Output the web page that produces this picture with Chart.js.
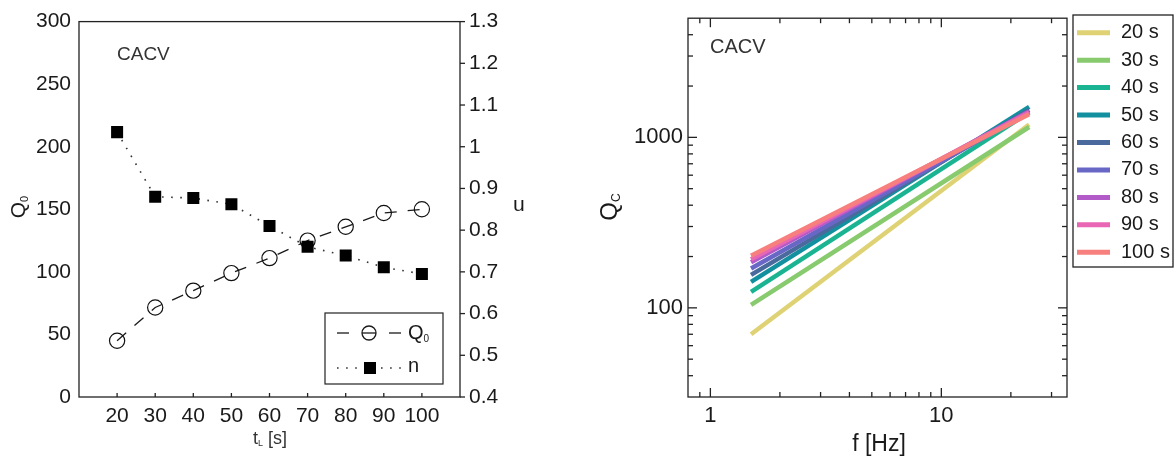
<!DOCTYPE html>
<html><head><meta charset="utf-8">
<script src="https://cdn.jsdelivr.net/npm/chart.js@4.4.0/dist/chart.umd.min.js"></script>
<style>
html,body{margin:0;padding:0;background:#fff;}
#wrap{position:relative;width:1176px;height:459px;overflow:hidden;background:#fff;}
canvas{position:absolute;top:0;}
#c1{left:0;} #c2{left:588px;}
</style></head><body>
<div id="wrap"><canvas id="c1" width="588" height="459"></canvas><canvas id="c2" width="588" height="459"></canvas></div>
<script>
// ---------- data: left panel ----------
const tL = [20, 30, 40, 50, 60, 70, 80, 90, 100];
const Q0 = [45, 71.5, 85, 99, 111, 125, 136, 147, 150];
const nExp = [1.035, 0.88, 0.877, 0.862, 0.81, 0.76, 0.739, 0.711, 0.695];
const leftXTickLabels = [20, 30, 40, 50, 60, 70, 80, 90, 100];
// ---------- data: right panel ----------
const freqHz = [1.5, 24];
const seriesLabels = ['20 s', '30 s', '40 s', '50 s', '60 s', '70 s', '80 s', '90 s', '100 s'];
const qc20s = [70, 1190];
const qc30s = [104, 1150];
const qc40s = [124, 1400];
const qc50s = [142, 1510];
const qc60s = [156, 1450];
const qc70s = [170, 1410];
const qc80s = [185, 1420];
const qc90s = [193, 1400];
const qc100s = [202, 1365];
const rightXTickLabels = [1, 10];
const rightYTickLabels = [100, 1000];

// ---------- styles ----------
const FONT = "'Liberation Sans', Arial, Helvetica, sans-serif";
const INK = '#1a1a1a';
const seriesColors = ['#dfd274', '#88ca6e', '#1ab492', '#13909f', '#4a699c', '#6967c5', '#b35ac9', '#e866b3', '#f7807f'];
const qcSeries = [qc20s, qc30s, qc40s, qc50s, qc60s, qc70s, qc80s, qc90s, qc100s];

function drawParts(ctx, parts, cx, cy, rot, color, align) {
  ctx.save();
  ctx.translate(cx, cy);
  ctx.rotate(rot);
  ctx.fillStyle = color;
  ctx.textBaseline = 'middle';
  ctx.textAlign = 'left';
  let total = 0;
  parts.forEach(p => { ctx.font = p.s + 'px ' + FONT; p.w = ctx.measureText(p.t).width; total += p.w; });
  let x = align === 'left' ? 0 : -total / 2;
  parts.forEach(p => { ctx.font = p.s + 'px ' + FONT; ctx.fillText(p.t, x, p.dy || 0); x += p.w; });
  ctx.restore();
}
function seg(ctx, x1, y1, x2, y2) { ctx.beginPath(); ctx.moveTo(x1, y1); ctx.lineTo(x2, y2); ctx.stroke(); }

// ---------- left chart ----------
const leftDeco = {
  id: 'leftDeco',
  afterDatasetsDraw(chart) {
    const { ctx, chartArea: a, scales } = chart;
    ctx.save();
    ctx.strokeStyle = '#222'; ctx.lineWidth = 1.3; ctx.setLineDash([]);
    ctx.strokeRect(a.left, a.top, a.right - a.left, a.bottom - a.top);
    scales.x.ticks.forEach(t => {
      if (leftXTickLabels.includes(t.value)) { const x = scales.x.getPixelForValue(t.value); seg(ctx, x, a.bottom, x, a.bottom - 4); }
    });
    scales.y1.ticks.forEach(t => { const y = scales.y1.getPixelForValue(t.value); seg(ctx, a.right, y, a.right + 5, y); });
    // legend box
    const lx = 325, ly = 313, lw = 118, lh = 71;
    ctx.fillStyle = '#fff'; ctx.fillRect(lx, ly, lw, lh);
    ctx.strokeStyle = '#222'; ctx.lineWidth = 1.2; ctx.strokeRect(lx, ly, lw, lh);
    const q = chart.data.datasets[1], n = chart.data.datasets[0];
    // Q0 row
    ctx.strokeStyle = q.borderColor; ctx.lineWidth = q.borderWidth;
    seg(ctx, 337, 333, 349, 333); seg(ctx, 362, 333, 376, 333); seg(ctx, 389, 333, 401, 333);
    ctx.beginPath(); ctx.arc(369, 333, 7, 0, Math.PI * 2); ctx.stroke();
    drawParts(ctx, [{ t: 'Q', s: 20 }, { t: '0', s: 10, dy: 6 }], 408, 333, 0, INK, 'left');
    // n row
    ctx.strokeStyle = n.borderColor; ctx.lineWidth = n.borderWidth; ctx.setLineDash(n.borderDash);
    seg(ctx, 337, 368, 364, 368); seg(ctx, 381, 368, 402, 368);
    ctx.setLineDash([]);
    ctx.fillStyle = '#000'; ctx.fillRect(364, 362, 12, 12);
    drawParts(ctx, [{ t: 'n', s: 20 }], 408, 366, 0, INK, 'left');
    // texts
    drawParts(ctx, [{ t: 'CACV', s: 19 }], 117, 55, 0, '#333', 'left');
    drawParts(ctx, [{ t: 'Q', s: 21 }, { t: '0', s: 11, dy: 6 }], 19, 207, -Math.PI / 2, INK);
    drawParts(ctx, [{ t: 't', s: 18 }, { t: 'L', s: 9, dy: 5 }, { t: ' [s]', s: 18 }], 270, 439, 0, '#333');
    drawParts(ctx, [{ t: 'n', s: 21 }], 519, 206, Math.PI, INK);
    ctx.restore();
  }
};

new Chart(document.getElementById('c1'), {
  type: 'line',
  data: {
    datasets: [
      {
        label: 'n', yAxisID: 'y1',
        data: tL.map((t, i) => ({ x: t, y: nExp[i] })),
        borderColor: '#333', borderWidth: 1.6, borderDash: [1.6, 7.5],
        pointStyle: 'rect', pointRadius: 8.5, pointBackgroundColor: '#000', pointBorderColor: '#000', pointBorderWidth: 0,
        fill: false, tension: 0
      },
      {
        label: 'Q0', yAxisID: 'y',
        data: tL.map((t, i) => ({ x: t, y: Q0[i] })),
        borderColor: '#1a1a1a', borderWidth: 1.3, borderDash: [12, 11],
        pointStyle: 'circle', pointRadius: 7.6, pointBackgroundColor: 'rgba(255,255,255,0)', pointBorderColor: '#111', pointBorderWidth: 1.2,
        fill: false, tension: 0
      }
    ]
  },
  options: {
    responsive: false, animation: false, devicePixelRatio: 1,
    layout: { padding: { top: 20, left: 0, right: 0, bottom: 0 } },
    plugins: { legend: { display: false }, tooltip: { enabled: false } },
    scales: {
      x: {
        type: 'linear', min: 10, max: 110,
        grid: { display: false, drawTicks: false }, border: { display: false },
        ticks: { stepSize: 10, autoSkip: false, maxRotation: 0, padding: 7, color: INK, font: { family: FONT, size: 21 },
          callback: v => leftXTickLabels.includes(v) ? String(v) : '' },
        afterFit: s => { s.height = 62; }
      },
      y: {
        position: 'left', min: 0, max: 300,
        grid: { display: false, drawTicks: false }, border: { display: false },
        ticks: { stepSize: 50, padding: 8, color: INK, font: { family: FONT, size: 21 } },
        afterFit: s => { s.width = 79; }
      },
      y1: {
        position: 'right', min: 0.4, max: 1.3,
        grid: { display: false, drawTicks: false }, border: { display: false },
        ticks: { stepSize: 0.1, padding: 9, color: INK, font: { family: FONT, size: 21 },
          callback: v => String(Number(v.toFixed(1))) },
        afterFit: s => { s.width = 128; }
      }
    }
  },
  plugins: [leftDeco]
});

// ---------- right chart ----------
function isStdLogTick(v) {
  const e = Math.floor(Math.log10(v) + 1e-9);
  const sig = v / Math.pow(10, e);
  return Math.abs(sig - Math.round(sig)) < 1e-6 ? Math.round(sig) : 0;
}
function inList(v, list) { return list.some(t => Math.abs(v - t) < 1e-9 * t); }

const rightDeco = {
  id: 'rightDeco',
  afterDatasetsDraw(chart) {
    const { ctx, chartArea: a, scales } = chart;
    ctx.save();
    ctx.strokeStyle = '#222'; ctx.lineWidth = 1.3;
    ctx.strokeRect(a.left, a.top, a.right - a.left, a.bottom - a.top);
    scales.x.ticks.forEach(t => {
      const sig = isStdLogTick(t.value); if (!sig) return;
      const x = scales.x.getPixelForValue(t.value);
      if (x < a.left + 0.5 || x > a.right - 0.5) return;
      const L = sig === 1 ? 9 : 5;
      seg(ctx, x, a.bottom, x, a.bottom - L); seg(ctx, x, a.top, x, a.top + L);
    });
    scales.y.ticks.forEach(t => {
      const sig = isStdLogTick(t.value); if (!sig) return;
      const y = scales.y.getPixelForValue(t.value);
      if (y < a.top + 0.5 || y > a.bottom - 0.5) return;
      const L = sig === 1 ? 9 : 5;
      seg(ctx, a.left, y, a.left + L, y); seg(ctx, a.right, y, a.right - L, y);
    });
    // legend
    const bx = 485, by = 15, bw = 100, bh = 252;
    ctx.strokeStyle = '#222'; ctx.lineWidth = 1.3; ctx.strokeRect(bx, by, bw, bh);
    chart.data.datasets.forEach((d, i) => {
      const y = 32.7 + i * 27.45;
      ctx.strokeStyle = d.borderColor; ctx.lineWidth = 5; ctx.lineCap = 'butt';
      seg(ctx, 489, y, 522, y);
      drawParts(ctx, [{ t: d.label, s: 20 }], 533, y, 0, INK, 'left');
    });
    // texts
    drawParts(ctx, [{ t: 'CACV', s: 20 }], 122, 47, 0, '#333', 'left');
    drawParts(ctx, [{ t: 'Q', s: 24 }, { t: 'C', s: 12, dy: 7 }], 22, 207, -Math.PI / 2, INK);
    drawParts(ctx, [{ t: 'f [Hz]', s: 23 }], 291, 445, 0, INK);
    ctx.restore();
  }
};

new Chart(document.getElementById('c2'), {
  type: 'line',
  data: {
    datasets: qcSeries.map((vals, i) => ({
      label: seriesLabels[i],
      data: freqHz.map((f, j) => ({ x: f, y: vals[j] })),
      borderColor: seriesColors[i], borderWidth: 4.5, pointRadius: 0,
      fill: false, tension: 0, order: qcSeries.length - 1 - i
    }))
  },
  options: {
    responsive: false, animation: false, devicePixelRatio: 1,
    layout: { padding: { top: 16, left: 0, right: 109, bottom: 0 } },
    plugins: { legend: { display: false }, tooltip: { enabled: false } },
    scales: {
      x: {
        type: 'logarithmic', min: 0.8, max: 35,
        grid: { display: false, drawTicks: false }, border: { display: false },
        ticks: { autoSkip: false, maxRotation: 0, padding: 6, color: INK, font: { family: FONT, size: 22 },
          callback: v => inList(v, rightXTickLabels) ? String(v) : '' },
        afterFit: s => { s.height = 62; }
      },
      y: {
        type: 'logarithmic', position: 'left', min: 30, max: 5000,
        grid: { display: false, drawTicks: false }, border: { display: false },
        ticks: { autoSkip: false, padding: 5, color: INK, font: { family: FONT, size: 22 },
          callback: v => inList(v, rightYTickLabels) ? String(v) : '' },
        afterFit: s => { s.width = 100; }
      }
    }
  },
  plugins: [rightDeco]
});
</script>
</body></html>
